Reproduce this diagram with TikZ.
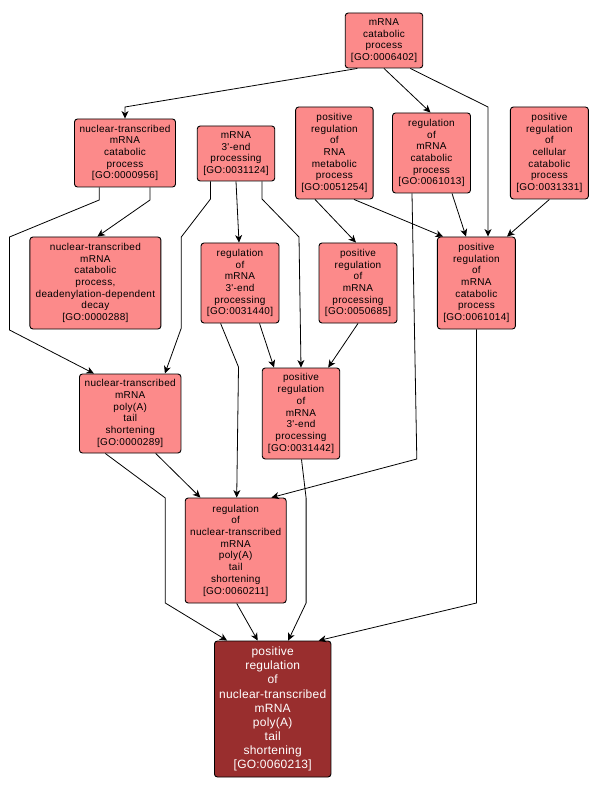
\documentclass[tikz,border=0pt]{standalone}
\usepackage{fontspec}
\setmainfont{Liberation Sans}
\newfontfamily\nodefont[LetterSpace=3]{Liberation Sans}
\newfontfamily\bigfont[LetterSpace=2]{Liberation Sans}
\usetikzlibrary{arrows.meta}
\definecolor{lightnode}{RGB}{252,138,138}
\definecolor{darknode}{RGB}{153,46,46}
\begin{document}
\begin{tikzpicture}[x=1pt,y=-1pt,
  goterm/.style={draw=black,line width=0.9pt,rounded corners=3pt,fill=lightnode,
    align=center,inner sep=0pt,font=\nodefont\fontsize{10}{11.7}\selectfont},
  goterm-main/.style={draw=black,line width=0.9pt,rounded corners=3pt,fill=darknode,
    text=white,align=center,inner sep=0pt,font=\bigfont\fontsize{12}{14.1}\selectfont},
  edge/.style={draw=black,line width=0.8pt,-{Stealth[length=7.5pt,width=7pt,inset=2.2pt]}}]
\useasboundingbox (0,0) rectangle (599,791);
\fill[white] (0,0) rectangle (599,791);

\node[goterm,minimum width=77.5pt,minimum height=55pt] (n6402) at (384,40.5) {mRNA\\catabolic\\process\\{}[GO:0006402]};
\node[goterm,minimum width=101pt,minimum height=68pt] (n956) at (125,153) {nuclear-transcribed\\mRNA\\catabolic\\process\\{}[GO:0000956]};
\node[goterm,minimum width=77.5pt,minimum height=55pt] (n31124) at (236,153.5) {mRNA\\3'-end\\processing\\{}[GO:0031124]};
\node[goterm,minimum width=77.5pt,minimum height=92pt] (n51254) at (334.4,153) {positive\\regulation\\of\\RNA\\metabolic\\process\\{}[GO:0051254]};
\node[goterm,minimum width=78pt,minimum height=80pt] (n61013) at (431.5,153) {regulation\\of\\mRNA\\catabolic\\process\\{}[GO:0061013]};
\node[goterm,minimum width=78pt,minimum height=92pt] (n31331) at (549.4,153) {positive\\regulation\\of\\cellular\\catabolic\\process\\{}[GO:0031331]};
\node[goterm,minimum width=131pt,minimum height=92pt] (n288) at (95.4,283) {nuclear-transcribed\\mRNA\\catabolic\\process,\\deadenylation-dependent\\decay\\{}[GO:0000288]};
\node[goterm,minimum width=78pt,minimum height=80pt] (n31440) at (240,283) {regulation\\of\\mRNA\\3'-end\\processing\\{}[GO:0031440]};
\node[goterm,minimum width=78pt,minimum height=80pt] (n50685) at (358,283) {positive\\regulation\\of\\mRNA\\processing\\{}[GO:0050685]};
\node[goterm,minimum width=78pt,minimum height=92pt] (n61014) at (476.4,283) {positive\\regulation\\of\\mRNA\\catabolic\\process\\{}[GO:0061014]};
\node[goterm,minimum width=101.5pt,minimum height=79pt] (n289) at (130.2,413.5) {nuclear-transcribed\\mRNA\\poly(A)\\tail\\shortening\\{}[GO:0000289]};
\node[goterm,minimum width=77.5pt,minimum height=91pt] (n31442) at (301,413.5) {positive\\regulation\\of\\mRNA\\3'-end\\processing\\{}[GO:0031442]};
\node[goterm,minimum width=101pt,minimum height=105pt] (n60211) at (235.7,550.5) {regulation\\of\\nuclear-transcribed\\mRNA\\poly(A)\\tail\\shortening\\{}[GO:0060211]};
\node[goterm-main,minimum width=116.5pt,minimum height=136pt] (n60213) at (272.7,709) {positive\\regulation\\of\\nuclear-transcribed\\mRNA\\poly(A)\\tail\\shortening\\{}[GO:0060213]};

% edges
\draw[edge] ([xshift=-26.7pt]n6402.south) -- (125,107) -- (n956.north);
\draw[edge] (n6402.south) -- ([xshift=-1pt]n61013.north);
\draw[edge] ([xshift=26.3pt]n6402.south) -- (488,107) -- ([xshift=11.6pt]n61014.north);
\draw[edge] ([xshift=-25.8pt]n956.south) -- (99.2,200) -- (9.5,237) -- (9.5,330) -- ([xshift=-36.3pt]n289.north);
\draw[edge] ([xshift=25pt]n956.south) -- (150,200) -- ([xshift=2pt]n288.north);
\draw[edge] ([xshift=-25.5pt]n31124.south) -- (210.5,199) -- (181.3,237) -- (181.3,328) -- ([xshift=34.7pt]n289.north);
\draw[edge] (n31124.south) -- ([xshift=-1pt]n31440.north);
\draw[edge] ([xshift=26pt]n31124.south) -- (262,199) -- (299,237) -- (n31442.north);
\draw[edge] ([xshift=-19.4pt]n51254.south) -- ([xshift=-2pt]n50685.north);
\draw[edge] ([xshift=19.6pt]n51254.south) -- ([xshift=-33.4pt]n61014.north);
\draw[edge] ([xshift=20.5pt]n61013.south) -- ([xshift=-10.4pt]n61014.north);
\draw[edge] (n31331.south) -- ([xshift=30.6pt]n61014.north);
\draw[edge] ([xshift=-19.5pt]n61013.south) -- (416.8,459) -- ([xshift=35.7pt]n60211.north);
\draw[edge] ([xshift=19.5pt]n31440.south) -- ([xshift=-27pt]n31442.north);
\draw[edge] ([xshift=-19.4pt]n31440.south) -- (238.5,367) -- ([xshift=1pt]n60211.north);
\draw[edge] (n50685.south) -- ([xshift=27.2pt]n31442.north);
\draw[edge] ([xshift=25.5pt]n289.south) -- ([xshift=-35.3pt]n60211.north);
\draw[edge] ([xshift=-24.9pt]n289.south) -- (165.3,498) -- (165.3,603) -- ([xshift=-45.6pt]n60213.north);
\draw[edge] ([xshift=1pt]n60211.south) -- ([xshift=-15pt]n60213.north);
\draw[edge] ([xshift=0.5pt]n31442.south) -- (306.1,498) -- (306.1,603) -- ([xshift=15.5pt]n60213.north);
\draw[edge] (n61014.south) -- (476.4,603) -- ([xshift=46pt]n60213.north);
\end{tikzpicture}
\end{document}
